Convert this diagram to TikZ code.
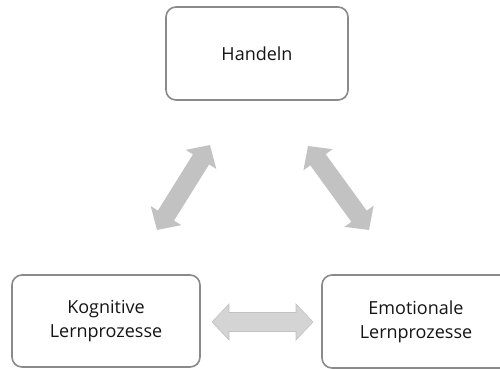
\documentclass[tikz,border=0pt]{standalone}
\usepackage{fontspec}
\setmainfont{Open Sans}
\usetikzlibrary{calc}

\definecolor{boxline}{HTML}{8A8A8A}
\definecolor{arrowdark}{HTML}{C2C2C2}
\definecolor{arrowlight}{HTML}{D4D4D4}
\definecolor{txt}{HTML}{151515}

% fat double-headed arrow between two named coordinates
\newcommand\fatarrow[3]{%
  \fill[#3]
    (#1)
    -- ($(#1)!17pt!(#2)!18pt!90:(#2)$)
    -- ($(#1)!17pt!(#2)!9.5pt!90:(#2)$)
    -- ($(#2)!17pt!(#1)!9.5pt!-90:(#1)$)
    -- ($(#2)!17pt!(#1)!18pt!-90:(#1)$)
    -- (#2)
    -- ($(#2)!17pt!(#1)!18pt!90:(#1)$)
    -- ($(#2)!17pt!(#1)!9.5pt!90:(#1)$)
    -- ($(#1)!17pt!(#2)!9.5pt!-90:(#2)$)
    -- ($(#1)!17pt!(#2)!18pt!-90:(#2)$)
    -- cycle;}

\tikzset{
  box/.style={draw=boxline, line width=1.6pt, rounded corners=10pt,
    fill=white, align=center, text=txt, font=\fontsize{18}{24}\selectfont,
    inner sep=0pt},
  darkarrow/.style={fill=arrowdark},
  lightarrow/.style={fill=arrowlight, draw=arrowdark, line width=0.6pt},
}

\begin{document}
\begin{tikzpicture}[x=1pt, y=-1pt]
  \useasboundingbox (0,0) rectangle (500,369);

  \node[box, minimum width=182pt, minimum height=93pt] (act) at (257,53.5) {Handeln};
  \node[box, minimum width=188pt, minimum height=92pt] (cog) at (106,321) {Kognitive\\Lernprozesse};
  \node[box, minimum width=188pt, minimum height=93pt] (emo) at (416,321.5) {Emotionale\\Lernprozesse};

  % arrow ends
  \coordinate (cogA) at (157,230);
  \coordinate (actL) at (210,145);
  \coordinate (actR) at (308,146);
  \coordinate (emoA) at (369,230);
  \coordinate (cogE) at (212,322);
  \coordinate (emoC) at (313,322);

  \fatarrow{cogA}{actL}{darkarrow}
  \fatarrow{actR}{emoA}{darkarrow}
  \fatarrow{cogE}{emoC}{lightarrow}
\end{tikzpicture}
\end{document}
